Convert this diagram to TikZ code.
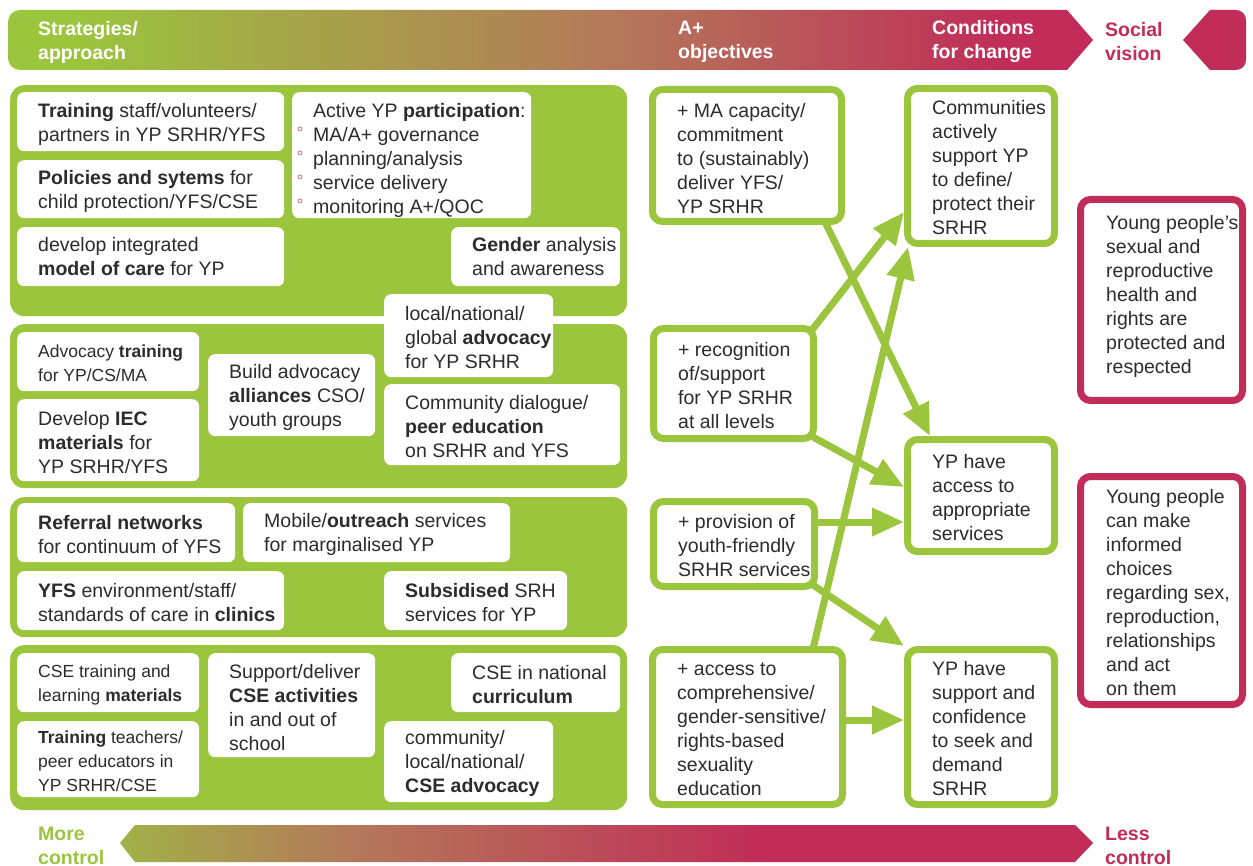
\documentclass[tikz,border=0pt]{standalone}
\usepackage{fontspec}
\setmainfont{Liberation Sans}
\usetikzlibrary{arrows.meta,positioning}

\definecolor{sgreen}{HTML}{9BC53D}
\definecolor{solive}{HTML}{A2B148}
\definecolor{sbrown}{HTML}{B4785A}
\definecolor{scrim}{HTML}{C12C58}
\definecolor{spink}{HTML}{E06A8C}
\definecolor{stext}{HTML}{2E2B2C}

\pgfdeclarehorizontalshading{topbar}{100bp}{color(0bp)=(sgreen); color(28bp)=(sgreen); color(53bp)=(sbrown); color(71bp)=(scrim); color(100bp)=(scrim)}
\pgfdeclarehorizontalshading{lowbar}{100bp}{color(0bp)=(solive); color(25bp)=(solive); color(37bp)=(sbrown); color(58bp)=(scrim); color(100bp)=(scrim)}

\tikzset{
  blk/.style 2 args={fill=sgreen, rounded corners=14pt, anchor=north west, minimum width=#1pt, minimum height=#2pt, inner sep=0pt},
  wbox/.style 2 args={fill=white, rounded corners=7pt, anchor=north west, minimum width=#1pt, minimum height=#2pt, inner sep=0pt},
  obox/.style 2 args={draw=sgreen, fill=white, line width=7pt, rounded corners=10pt, anchor=north west, minimum width=#1pt-7pt, minimum height=#2pt-7pt, inner sep=0pt},
  vbox/.style 2 args={obox={#1}{#2}, draw=scrim},
  btxt/.style={anchor=west, xshift=21pt, yshift=-2pt, align=left, text=stext, draw=none, fill=none, minimum width=0pt, minimum height=0pt, inner sep=0pt, font=\fontsize{19.5}{24}\selectfont},
  stxt/.style={btxt, font=\fontsize{17.5}{24}\selectfont},
  otxt/.style={btxt, xshift=7pt},
  htxt/.style={anchor=west, align=left, text=white, inner sep=0pt, font=\bfseries\fontsize{19.5}{24}\selectfont},
  dot/.style={draw=spink, line width=0.8pt},
  flow/.style={draw=sgreen, line width=7pt, -{Triangle[length=32pt, width=27pt]}},
}

\begin{document}
\begin{tikzpicture}[x=1pt, y=-1pt]
\useasboundingbox (0,0) rectangle (1253,866);
\fill[white] (0,0) rectangle (1253,866);

% bars
\shade[shading=topbar] (1093,40) -- (1067,10) [rounded corners=12pt] -- (8,10) -- (8,70) [sharp corners] -- (1067,70) -- cycle;
\fill[scrim] (1183,40) -- (1210,10) [rounded corners=10pt] -- (1246,10) -- (1246,70) [sharp corners] -- (1210,70) -- cycle;
\shade[shading=lowbar] (120,843) -- (135,825) -- (1075,825) -- (1093,843) -- (1075,862) -- (135,862) -- cycle;

\node[htxt] (strat) at (38,42) {Strategies/\\approach};
\node[htxt] (obj) at (678,42) {A+\\objectives};
\node[htxt] (cond) at (932,42) {Conditions\\for change};
\node[htxt, text=scrim] (social) at (1105,42) {Social\\vision};
\node[htxt, text=sgreen] (more) at (38,846) {More\\control};
\node[htxt, text=scrim] (less) at (1105,846) {Less\\control};

% strategy blocks
\node[blk={617}{231}] (blk1) at (10,85) {};
\node[blk={617}{164}] (blk2) at (10,324) {};
\node[blk={617}{140}] (blk3) at (10,497) {};
\node[blk={617}{165}] (blk4) at (10,645) {};

\node[wbox={267}{59}, label={[btxt, yshift=-1pt]west:{\textbf{Training} staff/volunteers/\\partners in YP SRHR/YFS}}] (train) at (17,92) {};
\node[wbox={267}{58}, label={[btxt]west:{\textbf{Policies and sytems} for\\child protection/YFS/CSE}}] (policy) at (17,160) {};
\node[wbox={267}{59}, label={[btxt, yshift=2pt]west:{develop integrated\\\textbf{model of care} for YP}}] (model) at (17,227) {};
\node[wbox={239}{126}, label={[btxt, yshift=-3pt]west:{Active YP \textbf{participation}:\\MA/A+ governance\\planning/analysis\\service delivery\\monitoring A+/QOC}}] (partic) at (292,92) {};
\foreach \k in {0,...,3}
  \draw[dot] ([xshift=8pt, yshift=-37pt-24*\k pt]partic.north west) circle (2pt);
\node[wbox={169}{59}, label={[btxt, yshift=2pt]west:{\textbf{Gender} analysis\\and awareness}}] (gender) at (451,227) {};
\node[wbox={169}{83}, label={[btxt]west:{local/national/\\global \textbf{advocacy}\\for YP SRHR}}] (glob) at (384,294) {};

\node[wbox={182}{59}, label={[stxt]west:{Advocacy \textbf{training}\\for YP/CS/MA}}] (advtrain) at (17,332) {};
\node[wbox={182}{82}, label={[btxt]west:{Develop \textbf{IEC}\\\textbf{materials} for\\YP SRHR/YFS}}] (iec) at (17,399) {};
\node[wbox={167}{82}, label={[btxt]west:{Build advocacy\\\textbf{alliances} CSO/\\youth groups}}] (alli) at (208,354) {};
\node[wbox={236}{81}, label={[btxt]west:{Community dialogue/\\\textbf{peer education}\\on SRHR and YFS}}] (dialog) at (384,384) {};

\node[wbox={218}{59}, label={[btxt]west:{\textbf{Referral networks}\\for continuum of YFS}}] (referral) at (17,503) {};
\node[wbox={267}{59}, label={[btxt]west:{Mobile/\textbf{outreach} services\\for marginalised YP}}] (mobile) at (243,503) {};
\node[wbox={267}{59}, label={[btxt]west:{\textbf{YFS} environment/staff/\\standards of care in \textbf{clinics}}}] (yfsenv) at (17,571) {};
\node[wbox={183}{59}, label={[btxt]west:{\textbf{Subsidised} SRH\\services for YP}}] (subsid) at (384,571) {};

\node[wbox={182}{59}, label={[stxt]west:{CSE training and\\learning \textbf{materials}}}] (csemat) at (17,653) {};
\node[wbox={182}{76}, label={[stxt]west:{\textbf{Training} teachers/\\peer educators in\\YP SRHR/CSE}}] (teachers) at (17,721) {};
\node[wbox={167}{104}, label={[btxt]west:{Support/deliver\\\textbf{CSE activities}\\in and out of\\school}}] (cseact) at (208,653) {};
\node[wbox={169}{59}, label={[btxt]west:{CSE in national\\\textbf{curriculum}}}] (curric) at (451,653) {};
\node[wbox={169}{81}, label={[btxt]west:{community/\\local/national/\\\textbf{CSE advocacy}}}] (cseadv) at (384,721) {};

% objectives, conditions, vision
\node[obox={196}{139}, label={[otxt, yshift=-1pt]west:{+ MA capacity/\\commitment\\to (sustainably)\\deliver YFS/\\YP SRHR}}] (a1) at (649,86) {};
\node[obox={167}{117}, label={[otxt]west:{+ recognition\\of/support\\for YP SRHR\\at all levels}}] (a2) at (650,325) {};
\node[obox={168}{92}, label={[otxt]west:{+ provision of\\youth-friendly\\SRHR services}}] (a3) at (650,498) {};
\node[obox={197}{162}, label={[otxt]west:{+ access to\\comprehensive/\\gender-sensitive/\\rights-based\\sexuality\\education}}] (a4) at (649,646) {};

\node[obox={154}{162}, label={[otxt]west:{Communities\\actively\\support YP\\to define/\\protect their\\SRHR}}] (c1) at (904,85) {};
\node[obox={154}{119}, label={[otxt]west:{YP have\\access to\\appropriate\\services}}] (c2) at (904,436) {};
\node[obox={154}{162}, label={[otxt]west:{YP have\\support and\\confidence\\to seek and\\demand\\SRHR}}] (c3) at (904,646) {};

\node[vbox={169}{208}, label={[otxt, xshift=1pt, yshift=6pt]west:{Young people’s\\sexual and\\reproductive\\health and\\rights are\\protected and\\respected}}] (v1) at (1077,196) {};
\node[vbox={169}{235}, label={[otxt, xshift=1pt]west:{Young people\\can make\\informed\\choices\\regarding sex,\\reproduction,\\relationships\\and act\\on them}}] (v2) at (1077,473) {};

% arrows
\draw[flow] ([xshift=-20pt, yshift=3pt]a1.south east) -- ([xshift=26pt]c2.north west);
\draw[flow] ([xshift=-5pt, yshift=-5pt]a2.north east) -- ([yshift=35pt]c1.south west);
\draw[flow] ([xshift=-33pt, yshift=-3pt]a4.north east) -- ([xshift=4pt]c1.south west);
\draw[flow] ([xshift=-4pt, yshift=5pt]a2.south east) -- ([yshift=8.5pt]c2.west);
\draw[flow] ([yshift=22pt]a3.east) -- ([yshift=-26.5pt]c2.west);
\draw[flow] ([xshift=-5pt, yshift=5pt]a3.south east) -- (c3.north west);
\draw[flow] ([yshift=7pt]a4.east) -- ([yshift=7pt]c3.west);
\end{tikzpicture}
\end{document}
